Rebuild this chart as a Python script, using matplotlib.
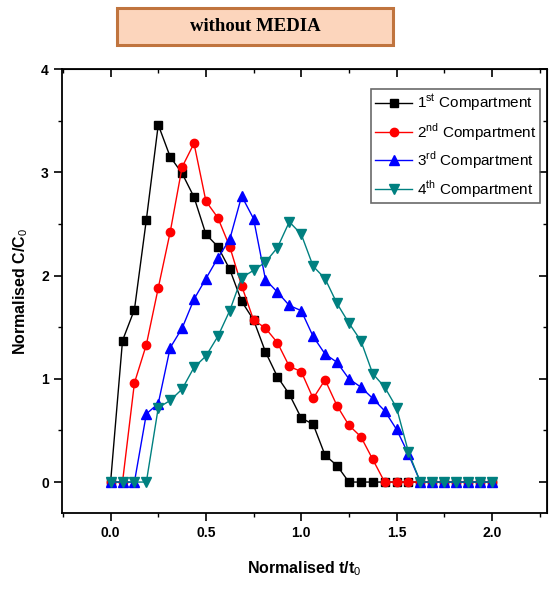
import numpy as np
import matplotlib.pyplot as plt
from matplotlib.patches import Rectangle
from matplotlib.ticker import MultipleLocator

# normalised time, step 1/16
t = np.arange(33) / 16.0

c1 = [0, 1.37, 1.67, 2.54, 3.46, 3.15, 2.99, 2.76, 2.40, 2.28, 2.06, 1.75, 1.57,
      1.26, 1.02, 0.85, 0.62, 0.56, 0.26, 0.16, 0, 0, 0, 0, 0, 0, 0, 0, 0, 0, 0, 0, 0]
c2 = [0, 0, 0.96, 1.33, 1.88, 2.42, 3.05, 3.28, 2.72, 2.56, 2.28, 1.90, 1.57,
      1.49, 1.35, 1.12, 1.07, 0.81, 0.99, 0.74, 0.55, 0.44, 0.22, 0, 0, 0, 0, 0, 0, 0, 0, 0, 0]
c3 = [0, 0, 0, 0.66, 0.76, 1.30, 1.49, 1.77, 1.97, 2.17, 2.35, 2.77, 2.55,
      1.96, 1.84, 1.71, 1.66, 1.41, 1.24, 1.16, 1.00, 0.92, 0.81, 0.69, 0.51, 0.27, 0, 0, 0, 0, 0, 0, 0]
c4 = [0, 0, 0, 0, 0.72, 0.79, 0.90, 1.11, 1.22, 1.41, 1.66, 1.98, 2.05,
      2.13, 2.27, 2.52, 2.40, 2.09, 1.97, 1.73, 1.54, 1.37, 1.05, 0.92, 0.72, 0.29, 0, 0, 0, 0, 0, 0, 0]

labels = ['1$^{\\mathrm{st}}$ Compartment', '2$^{\\mathrm{nd}}$ Compartment',
          '3$^{\\mathrm{rd}}$ Compartment', '4$^{\\mathrm{th}}$ Compartment']

plt.rcParams['font.family'] = ['Liberation Sans', 'DejaVu Sans']
plt.rcParams['mathtext.fontset'] = 'custom'
plt.rcParams['mathtext.rm'] = 'Liberation Sans'
plt.rcParams['mathtext.bf'] = 'Liberation Sans:bold'

fig = plt.figure(figsize=(5.51, 5.92), dpi=100)
ax = fig.add_axes([0.1125, 0.1334, 0.8805, 0.75])

ax.plot(t, c1, '-s', color='black', lw=1, ms=6, label=labels[0])
ax.plot(t, c2, '-o', color='red', lw=1, ms=6, label=labels[1])
ax.plot(t, c3, '-^', color='blue', lw=1, ms=7, label=labels[2])
ax.plot(t, c4, '-v', color='#008080', lw=1, ms=7, label=labels[3])

ax.set_xlim(-0.255, 2.29)
ax.set_ylim(-0.3, 4)
ax.xaxis.set_major_locator(MultipleLocator(0.5))
ax.xaxis.set_minor_locator(MultipleLocator(0.25))
ax.yaxis.set_major_locator(MultipleLocator(1))
ax.yaxis.set_minor_locator(MultipleLocator(0.5))
ax.set_xticks([0, 0.5, 1.0, 1.5, 2.0])
ax.set_xticklabels(['0.0', '0.5', '1.0', '1.5', '2.0'])
ax.set_yticks([0, 1, 2, 3, 4])
ax.set_yticklabels(['0', '1', '2', '3', '4'])
ax.tick_params(which='major', direction='out', length=6, width=1.2, labelsize=10)
ax.tick_params(which='minor', direction='out', length=3, width=1)
for lab in ax.get_xticklabels() + ax.get_yticklabels():
    lab.set_fontweight('bold')
for s in ax.spines.values():
    s.set_linewidth(1.3)

# mirrored inward ticks on top and right
top = ax.secondary_xaxis('top')
top.xaxis.set_major_locator(MultipleLocator(0.5))
top.xaxis.set_minor_locator(MultipleLocator(0.25))
top.tick_params(which='major', direction='in', length=6, width=1.2, labeltop=False)
top.tick_params(which='minor', direction='in', length=3, width=1)
right = ax.secondary_yaxis('right')
right.yaxis.set_major_locator(MultipleLocator(1))
right.yaxis.set_minor_locator(MultipleLocator(0.5))
right.tick_params(which='major', direction='in', length=6, width=1.2, labelright=False)
right.tick_params(which='minor', direction='in', length=3, width=1)

ax.set_xlabel('Normalised t/t$_0$', fontsize=11.5, fontweight='bold', labelpad=14)
ax.set_ylabel('Normalised C/C$_0$', fontsize=11.5, fontweight='bold', labelpad=8)

leg = ax.legend(loc='upper right', bbox_to_anchor=(0.985, 0.955), fontsize=11,
                fancybox=False, edgecolor='#444444', handlelength=2.4,
                borderpad=0.25, labelspacing=0.45, handletextpad=0.3, borderaxespad=0)
leg.get_frame().set_linewidth(1.2)

# title box
fig.patches.append(Rectangle((0.2123, 0.924), 0.501, 0.0625, transform=fig.transFigure,
                             facecolor='#fcd5bc', edgecolor='#c0743e', lw=2.2))
fig.text(0.463, 0.955, 'without MEDIA', ha='center', va='center', fontsize=13.5,
         fontweight='bold', family='Liberation Serif')

plt.savefig('out.png', dpi=100)
